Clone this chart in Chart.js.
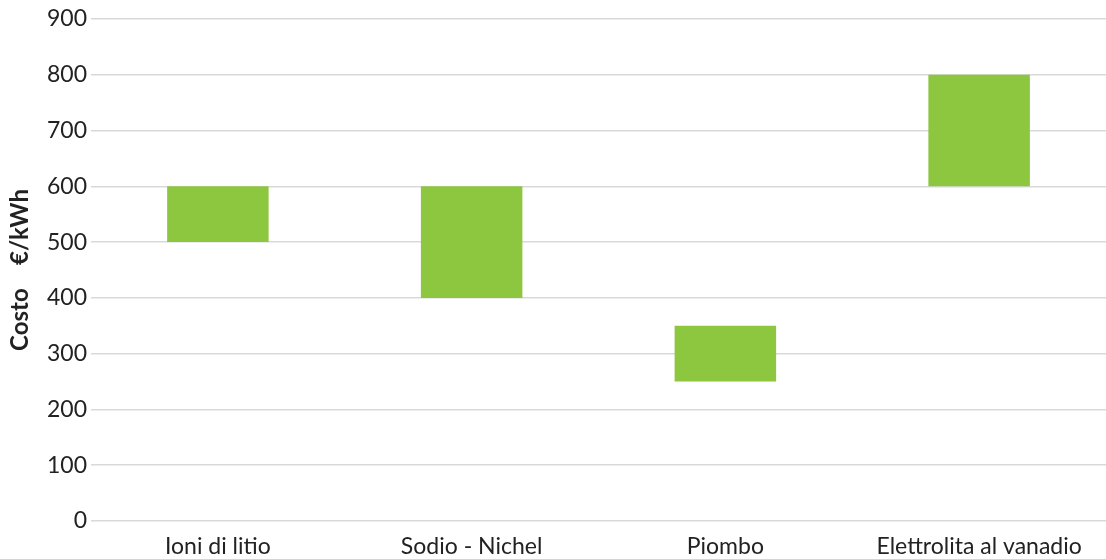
<!DOCTYPE html>
<html>
<head>
<meta charset="utf-8">
<script src="https://cdn.jsdelivr.net/npm/chart.js"></script>
<style>
  html, body { margin: 0; padding: 0; background: #fff; }
  #wrap { width: 1106px; height: 559px; position: relative; }
</style>
</head>
<body>
<div id="wrap"><canvas id="costChart"></canvas></div>
<script>
  // Tecnologie di accumulo e intervallo di costo (€/kWh)
  const categories = ['Ioni di litio', 'Sodio - Nichel', 'Piombo', 'Elettrolita al vanadio'];
  const costMin = [500, 400, 250, 600];
  const costMax = [600, 600, 350, 800];
  const yTicks = [0, 100, 200, 300, 400, 500, 600, 700, 800, 900];

  const ranges = categories.map((c, i) => [costMin[i], costMax[i]]);

  new Chart(document.getElementById('costChart'), {
    type: 'bar',
    data: {
      labels: categories,
      datasets: [{
        label: 'Costo',
        data: ranges,
        backgroundColor: '#8dc63f',
        borderWidth: 0,
        barPercentage: 0.4,
        categoryPercentage: 1.0
      }]
    },
    options: {
      responsive: true,
      maintainAspectRatio: false,
      animation: false,
      layout: { padding: { top: 19, right: 0, left: 0, bottom: 0 } },
      plugins: {
        legend: { display: false },
        tooltip: { enabled: false }
      },
      scales: {
        x: {
          afterFit: axis => { axis.height = 38; },
          grid: { display: false, drawTicks: false },
          border: { display: false },
          ticks: {
            color: '#222',
            padding: 12,
            font: { family: 'Lato', size: 23 }
          }
        },
        y: {
          min: 0,
          max: 900,
          afterBuildTicks: axis => { axis.ticks = yTicks.map(v => ({ value: v })); },
          afterFit: axis => { axis.width = 91; },
          grid: { color: '#d9d9d9', lineWidth: 1.5, drawTicks: false },
          border: { display: false },
          ticks: {
            color: '#222',
            padding: 4,
            font: { family: 'Lato', size: 23 }
          },
          title: {
            display: true,
            text: 'Costo    €/kWh',
            color: '#222',
            padding: { top: 6, bottom: 0 },
            font: { family: 'Lato', size: 24, weight: 'bold' }
          }
        }
      }
    }
  });
</script>
</body>
</html>
